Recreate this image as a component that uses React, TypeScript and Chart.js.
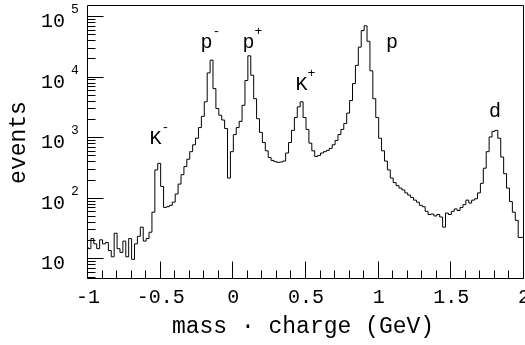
import React, { useEffect, useRef } from "react";
import { Chart, registerables } from "chart.js";

Chart.register(...registerables);

// Histogram: bins of width 0.02 from -1 to 2 (mass · charge in GeV)
const BIN_START = -1;
const BIN_WIDTH = 0.02;
const COUNTS = [
  16, 15, 22, 18, 15, 21, 18, 19, 14, 11,
  27, 15, 13, 20, 11, 22, 10, 18, 24, 34,
  20, 22, 28, 60, 300, 385, 160, 72, 74, 78,
  88, 120, 175, 250, 340, 450, 600, 780, 1000, 1500,
  2300, 4000, 12000, 19500, 6600, 3100, 2400, 2000, 1450, 220,
  600, 1150, 1500, 1900, 3500, 9000, 23000, 11000, 4500, 2100,
  1250, 850, 620, 480, 430, 410, 400, 405, 420, 570,
  850, 1350, 2200, 3300, 4000, 2200, 1400, 830, 620, 500,
  520, 570, 600, 630, 680, 780, 920, 1150, 1400, 1750,
  2600, 4200, 8000, 16000, 32000, 60000, 72000, 40000, 13000, 4500,
  2200, 1000, 620, 420, 300, 220, 185, 165, 150, 140,
  125, 115, 105, 95, 88, 78, 74, 62, 55, 56,
  52, 55, 50, 34, 58, 55, 62, 68, 64, 72,
  80, 95, 85, 95, 100, 125, 180, 320, 600, 1050,
  1300, 1350, 1000, 490, 260, 150, 90, 60, 44, 23,
];

const X_MIN = -1;
const X_MAX = 2;
const Y_MIN = 4.73;
const Y_MAX = 1.53e5;
const X_TICKS = [-1, -0.5, 0, 0.5, 1, 1.5, 2];
const X_TICK_LABELS = ["-1", "-0.5", "0", "0.5", "1", "1.5", "2"];
const Y_EXPONENTS = [1, 2, 3, 4, 5];
const Y_EXP_LABELS = ["", "2", "3", "4", "5"];

const PEAK_NAMES = ["K", "p", "p", "K", "p", "d"];
const PEAK_SUPERS = ["-", "-", "+", "+", "", ""];
const PEAK_X = [-0.536, -0.185, 0.104, 0.469, 1.092, 1.801];
const PEAK_Y = [796, 30500, 30500, 6180, 30500, 2220];

const X_TITLE = "mass · charge (GeV)";
const Y_TITLE = "events";

const MONO = '"Liberation Mono", "DejaVu Sans Mono", monospace';

export default function App() {
  const ref = useRef<HTMLCanvasElement>(null);

  useEffect(() => {
    const canvas = ref.current!;
    const points = COUNTS.map((v, i) => ({ x: BIN_START + i * BIN_WIDTH, y: v }));
    points.push({ x: BIN_START + COUNTS.length * BIN_WIDTH, y: COUNTS[COUNTS.length - 1] });

    const axesPlugin = {
      id: "paxes",
      afterDraw(chart: any) {
        const { ctx, chartArea: a, scales } = chart;
        const xs = scales.x;
        const ys = scales.y;
        const L = Math.round(a.left) - 0.5;
        const R = Math.round(a.right) - 0.5;
        const T = Math.round(a.top) - 0.5;
        const B = Math.round(a.bottom) - 0.5;
        ctx.save();
        ctx.strokeStyle = "#000";
        ctx.lineWidth = 1;
        ctx.beginPath();
        ctx.rect(L, T, R - L, B - T);
        ctx.stroke();

        // x ticks (inward)
        ctx.beginPath();
        for (let i = -10; i <= 20; i++) {
          const v = i / 10;
          const px = Math.round(xs.getPixelForValue(v)) - 0.5;
          const len = i % 5 === 0 ? 17 : 8;
          ctx.moveTo(px, B);
          ctx.lineTo(px, B - len);
        }
        // y ticks (inward)
        for (let d = 0; d <= 5; d++) {
          for (let m = 1; m <= 9; m++) {
            const v = m * Math.pow(10, d);
            if (v < Y_MIN || v > Y_MAX) continue;
            const py = Math.round(ys.getPixelForValue(v)) - 0.5;
            const len = m === 1 ? 16 : 8;
            ctx.moveTo(L, py);
            ctx.lineTo(L + len, py);
          }
        }
        ctx.stroke();

        ctx.fillStyle = "#000";
        // x tick labels
        ctx.font = `20px ${MONO}`;
        ctx.textAlign = "center";
        ctx.textBaseline = "alphabetic";
        X_TICKS.forEach((v, i) => {
          ctx.fillText(X_TICK_LABELS[i], xs.getPixelForValue(v), 303);
        });

        // y tick labels: 10 with superscript exponent
        Y_EXPONENTS.forEach((e, i) => {
          const py = ys.getPixelForValue(Math.pow(10, e));
          ctx.font = `20px ${MONO}`;
          ctx.textAlign = "left";
          ctx.fillText("10", 41, py + 10);
          if (Y_EXP_LABELS[i]) {
            ctx.font = `13px ${MONO}`;
            ctx.fillText(Y_EXP_LABELS[i], 71, py - 4);
          }
        });

        // axis titles
        ctx.font = `23px ${MONO}`;
        ctx.textAlign = "center";
        ctx.fillText(X_TITLE, 303, 333);
        ctx.save();
        ctx.translate(25, (a.top + a.bottom) / 2);
        ctx.rotate(-Math.PI / 2);
        ctx.fillText(Y_TITLE, 0, 0);
        ctx.restore();

        // peak labels
        PEAK_NAMES.forEach((name, i) => {
          const px = xs.getPixelForValue(PEAK_X[i]);
          const py = ys.getPixelForValue(PEAK_Y[i]);
          ctx.font = `20px ${MONO}`;
          ctx.textAlign = "center";
          ctx.fillText(name, px, py);
          const w = ctx.measureText(name).width;
          if (PEAK_SUPERS[i]) {
            ctx.font = `13px ${MONO}`;
            ctx.textAlign = "left";
            ctx.fillText(PEAK_SUPERS[i], px + w / 2, py - 13);
          }
        });
        ctx.restore();
      },
    };

    const chart = new Chart(canvas, {
      type: "line",
      data: {
        datasets: [
          {
            data: points,
            borderColor: "#000",
            borderWidth: 1,
            pointRadius: 0,
            stepped: "after",
            fill: false,
            tension: 0,
          },
        ],
      },
      options: {
        animation: false,
        responsive: false,
        maintainAspectRatio: false,
        layout: { padding: { left: 88, right: 1, top: 6, bottom: 66 } },
        plugins: { legend: { display: false }, tooltip: { enabled: false } },
        scales: {
          x: { type: "linear", min: X_MIN, max: X_MAX, display: false },
          y: { type: "logarithmic", min: Y_MIN, max: Y_MAX, display: false },
        },
      },
      plugins: [axesPlugin],
    } as any);

    return () => chart.destroy();
  }, []);

  return (
    <div style={{ position: "fixed", left: 0, top: 0, width: 525, height: 345, background: "#fff" }}>
      <canvas ref={ref} width={525} height={345} style={{ width: 525, height: 345 }} />
    </div>
  );
}
